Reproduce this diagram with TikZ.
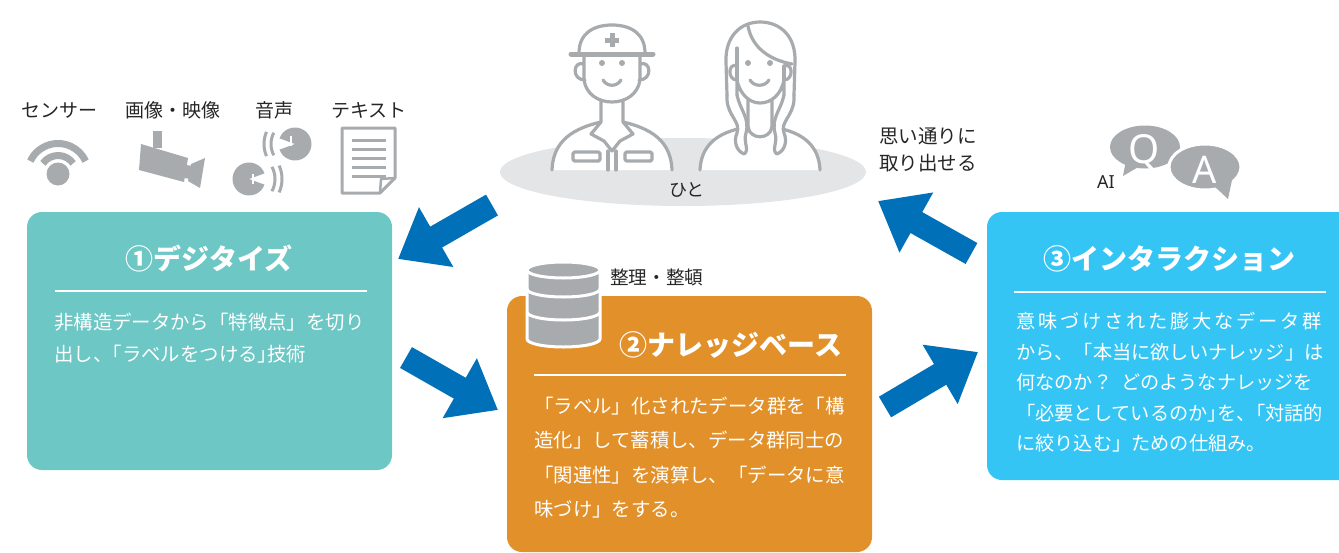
\documentclass[tikz,border=0pt]{standalone}
\usepackage{fontspec}
\setmainfont{Noto Sans CJK JP}
\newfontfamily\latinfont{Noto Sans}
\usetikzlibrary{arrows.meta}

\definecolor{digicol}{HTML}{6CC7C5}
\definecolor{knowcol}{HTML}{E1902A}
\definecolor{intcol}{HTML}{35C5F4}
\definecolor{arrowblue}{HTML}{0071B9}
\definecolor{icongray}{HTML}{A7ABAE}
\definecolor{ground}{HTML}{E3E5E7}
\definecolor{ink}{HTML}{262626}

% spacing helpers for hand-justified lines
\newcommand\hw{\kern-0.5em}     % turn a full-width mark into a half-width one
\newcommand\trk{\kern2.86pt}    % extra tracking between characters

\begin{document}
\begin{tikzpicture}[x=1pt,y=-1pt,
  lbl/.style={font=\fontsize{19}{19}\selectfont, text=ink, inner sep=0pt, anchor=base},
  bodytxt/.style={font=\fontsize{19.4}{19.4}\selectfont, text=white, inner sep=0pt, anchor=base west},
  ttl/.style={font=\fontsize{28}{28}\selectfont\bfseries, text=white, inner sep=0pt, anchor=base},
  rule/.style={draw=white, line width=2.5pt},
  panel/.style={rounded corners=15pt},
  bigarrow/.style={draw=arrowblue, line width=24pt, -{Triangle[length=44pt,width=66pt]}},
  person/.style={draw=icongray, line width=3.2pt, line join=round, line cap=round},
  wave/.style={draw=icongray, line width=3pt},
]
\useasboundingbox (0,0) rectangle (1339,552);

%--- panels
\fill[digicol, panel] (27,212) rectangle (392,470);
\fill[knowcol, panel] (507,296) rectangle (872,552);
\fill[intcol, panel] (987,212) rectangle (1370,480);

%--- panel 1: digitize
\node[ttl] (t1) at (209,269.6) {①デジタイズ};
\draw[rule] (55,291) -- (367,291);
\node[bodytxt] (d1) at (54,329.4) {非構造データから「特徴点」を切り};
\node[bodytxt] (d2) at (54,361.4) {出し、\hw「ラベルをつける」\hw 技術};

%--- panel 2: knowledge base
\node[ttl] (t2) at (731,355.6) {②ナレッジベース};
\draw[rule] (534,375) -- (846,375);
\node[bodytxt] (k1) at (534,413.4) {「ラベル」化されたデータ群を「構};
\node[bodytxt] (k2) at (534,447.9) {造化」して蓄積し、データ群同士の};
\node[bodytxt] (k3) at (534,482.4) {「関連性」を演算し、「データに意};
\node[bodytxt] (k4) at (534,516.9) {味づけ」をする。};

%--- panel 3: interaction
\node[ttl] (t3) at (1169,269.6) {③インタラクション};
\draw[rule] (1014,292) -- (1326,292);
\begin{scope}[every node/.style={bodytxt, font=\fontsize{19.2}{19.2}\selectfont}]
\node (i1) at (1016,328.8) {意\trk 味\trk づ\trk け\trk さ\trk れ\trk た\trk 膨\trk 大\trk な\trk デ\trk ー\trk タ\trk 群};
\node (i2) at (1016,359.3) {から、「本当に欲しいナレッジ」は};
\node (i3) at (1016,389.8) {何なのか？\kern9pt どのようなナレッジを};
\node (i4) at (1016,420.3) {「必要としているのか」\hw を、\hw「対話的};
\node (i5) at (1016,450.8) {に絞り込む」ための仕組み。};
\end{scope}

%--- database icon
\fill[icongray] (527,270) -- (527,339) arc[start angle=180, end angle=0, x radius=36.5, y radius=8]
  -- (600,270) arc[start angle=0, end angle=-180, x radius=36.5, y radius=8] -- cycle;
\draw[white, line width=3pt] (527,270) -- (527,339) arc[start angle=180, end angle=0, x radius=36.5, y radius=8]
  -- (600,270) arc[start angle=0, end angle=-180, x radius=36.5, y radius=8] -- cycle;
\foreach \yy in {270,289,312}
  \draw[white, line width=3pt] (527,\yy) arc[start angle=180, end angle=0, x radius=36.5, y radius=8];
\node[lbl, font=\fontsize{18.6}{18.6}\selectfont, anchor=base west] (sort) at (610,284) {整理・整頓};

%--- source icons and labels
\node[lbl] (sensor) at (59,117.2) {センサー};
\node[lbl] (video) at (173,117.2) {画像・映像};
\node[lbl] (voice) at (274,117.2) {音声};
\node[lbl] (text) at (369,117.2) {テキスト};

% sensor
\fill[icongray] (58,174) circle[radius=11.5];
\draw[icongray, line width=7pt, shift={(58,174)}] (205:30.5) arc[start angle=205, end angle=335, radius=30.5];
\draw[icongray, line width=7pt, shift={(58,174)}] (215:18.5) arc[start angle=215, end angle=325, radius=18.5];

% camera
\fill[icongray] (153,131) rectangle (162,148);
\fill[icongray] (141,144) -- (188,158) -- (184,182) -- (139,170) -- cycle;
\fill[icongray] (186,165) -- (193,166) -- (191,179) -- (184,178) -- cycle;
\fill[icongray] (191,164) -- (205,158) -- (200,188) -- (188,181) -- cycle;

% voices
\fill[icongray, shift={(295,144)}] (0,0) -- (200:16.5) arc[start angle=200, end angle=520, radius=16.5] -- cycle;
\draw[white, line width=2.5pt] (291,136) -- (291,146);
\draw[wave, shift={(295,144)}] (152:24) arc[start angle=152, end angle=208, radius=24];
\draw[wave, shift={(295,144)}] (157:31) arc[start angle=157, end angle=203, radius=31];
\fill[icongray, shift={(249,179)}] (0,0) -- (20:16.5) arc[start angle=20, end angle=340, radius=16.5] -- cycle;
\draw[white, line width=2.5pt] (253,174) -- (253,184);
\draw[wave, shift={(249,179)}] (-28:26) arc[start angle=-28, end angle=28, radius=26];
\draw[wave, shift={(249,179)}] (-24:33) arc[start angle=-24, end angle=24, radius=33];

% document
\draw[icongray, line width=3pt, line join=round] (342,128) -- (395,128) -- (395,178) -- (380,193) -- (342,193) -- cycle;
\draw[icongray, line width=2.5pt, line join=round] (380,193) -- (381,179) -- (395,178);
\foreach \yy in {140,149.3,158.3,167.3,176.7}
  \draw[icongray, line width=3pt] (352,\yy) -- (386,\yy);

%--- people
\fill[ground] (683,172) ellipse[x radius=183, y radius=34];

% worker
\fill[white] (601,118) -- (601,122) .. controls (566,130) and (553,146) .. (552,170) -- (672,170)
  .. controls (671,146) and (658,130) .. (623,122) -- (623,118) -- cycle;
\draw[person] (601,100) -- (601,122) .. controls (566,130) and (553,146) .. (552,170);
\draw[person] (623,100) -- (623,122) .. controls (658,130) and (671,146) .. (672,170);
\draw[person] (601,122) -- (591,134) -- (604,141) -- (612,151) -- (620,141) -- (633,134) -- (623,122);
\draw[person] (608,151) -- (608,170) (616,151) -- (616,170);
\draw[person, rounded corners=1.5pt] (573,152) rectangle (600,161);
\draw[person, rounded corners=1.5pt] (625,152) rectangle (652,161);
\draw[person] (584,64) .. controls (573,60) and (571,80) .. (585,80);
\draw[person] (640,64) .. controls (651,60) and (653,80) .. (639,80);
\draw[person] (584,55) -- (584,80) .. controls (586,94) and (598,102) .. (612,102)
  .. controls (626,102) and (638,94) .. (640,80) -- (640,55);
\draw[person] (579,53) .. controls (579,33) and (594,25) .. (612,25) .. controls (630,25) and (645,33) .. (645,53);
\draw[person, line width=5pt] (571,54) -- (653,54);
\fill[icongray] (609.5,33) rectangle (614.5,47);
\fill[icongray] (605,37.5) rectangle (619,42.5);
\fill[icongray] (602,63) circle[radius=3] (622,63) circle[radius=3];
\draw[person] (603,80) .. controls (607,87) and (617,87) .. (621,80);

% woman
\fill[white] (748,118) -- (748,127) .. controls (714,132) and (701,148) .. (700,170) -- (820,170)
  .. controls (819,148) and (806,132) .. (772,127) -- (772,118) -- cycle;
\draw[person] (748,100) -- (748,127) .. controls (714,132) and (701,148) .. (700,170);
\draw[person] (772,100) -- (772,127) .. controls (806,132) and (819,148) .. (820,170);
\draw[person] (748,127) .. controls (750,140) and (770,140) .. (772,127);
\draw[person, fill=white] (727,95) -- (727,100) .. controls (728,116) and (741,122) .. (737,133)
  .. controls (734,140) and (735,150) .. (744,154) .. controls (750,150) and (743,143) .. (746,133)
  .. controls (750,118) and (740,110) .. (737,95);
\draw[person, fill=white] (794,95) -- (794,100) .. controls (793,116) and (780,122) .. (784,133)
  .. controls (787,140) and (786,150) .. (777,154) .. controls (771,150) and (778,143) .. (775,133)
  .. controls (771,118) and (781,110) .. (784,95);
\draw[person] (727,95) -- (726,62) .. controls (725,36) and (741,22) .. (760,22)
  .. controls (780,22) and (796,36) .. (795,62) -- (794,95);
\draw[person] (737,95) -- (737,80) .. controls (740,95) and (750,103) .. (760,103)
  .. controls (771,103) and (781,95) .. (784,80) -- (784,95);
\draw[person] (737,80) -- (737,48);
\draw[person] (784,80) -- (784,66);
\draw[person] (748,26) .. controls (752,48) and (770,60) .. (792,64);
\draw[person] (737,66) .. controls (728,62) and (727,80) .. (737,80);
\draw[person] (784,66) .. controls (793,62) and (794,80) .. (784,80);
\fill[icongray] (748,63) circle[radius=3] (770,63) circle[radius=3];
\draw[person] (750,80) .. controls (754,87) and (765,87) .. (769,80);

\node[lbl, font=\fontsize{18}{18}\selectfont] (hito) at (687,196.8) {ひと};

%--- retrieval label
\node[lbl, anchor=base west, font=\fontsize{19.5}{19.5}\selectfont] (want1) at (879,143.4) {思い通りに};
\node[lbl, anchor=base west, font=\fontsize{19.5}{19.5}\selectfont] (want2) at (879,170.4) {取り出せる};

%--- Q&A bubbles
\fill[icongray] (1145,147) ellipse[x radius=35, y radius=21.5];
\fill[icongray] (1126,160) -- (1123,176) -- (1140,166) -- cycle;
\filldraw[fill=icongray, draw=white, line width=3pt] (1205,167) ellipse[x radius=36, y radius=23];
\fill[icongray] (1214,186) -- (1228,199) -- (1232,180) -- cycle;
\node[inner sep=0pt, anchor=base, text=white, font=\latinfont\fontsize{40}{40}\selectfont] (qmark) at (1144,163) {Q};
\node[inner sep=0pt, anchor=base, text=white, font=\latinfont\fontsize{38}{38}\selectfont] (amark) at (1205,183) {A};
\node[lbl, font=\latinfont\fontsize{18}{18}\selectfont] (ai) at (1106,188) {AI};

%--- flow arrows
\coordinate (a1s) at (492,205); \coordinate (a1e) at (398,259);
\coordinate (a2s) at (406,357.5); \coordinate (a2e) at (498,410);
\coordinate (a3s) at (885,407); \coordinate (a3e) at (978,352);
\coordinate (a4s) at (971.5,253.5); \coordinate (a4e) at (878,201);
\draw[bigarrow] (a1s) -- (a1e);
\draw[bigarrow] (a2s) -- (a2e);
\draw[bigarrow] (a3s) -- (a3e);
\draw[bigarrow] (a4s) -- (a4e);
\end{tikzpicture}
\end{document}
